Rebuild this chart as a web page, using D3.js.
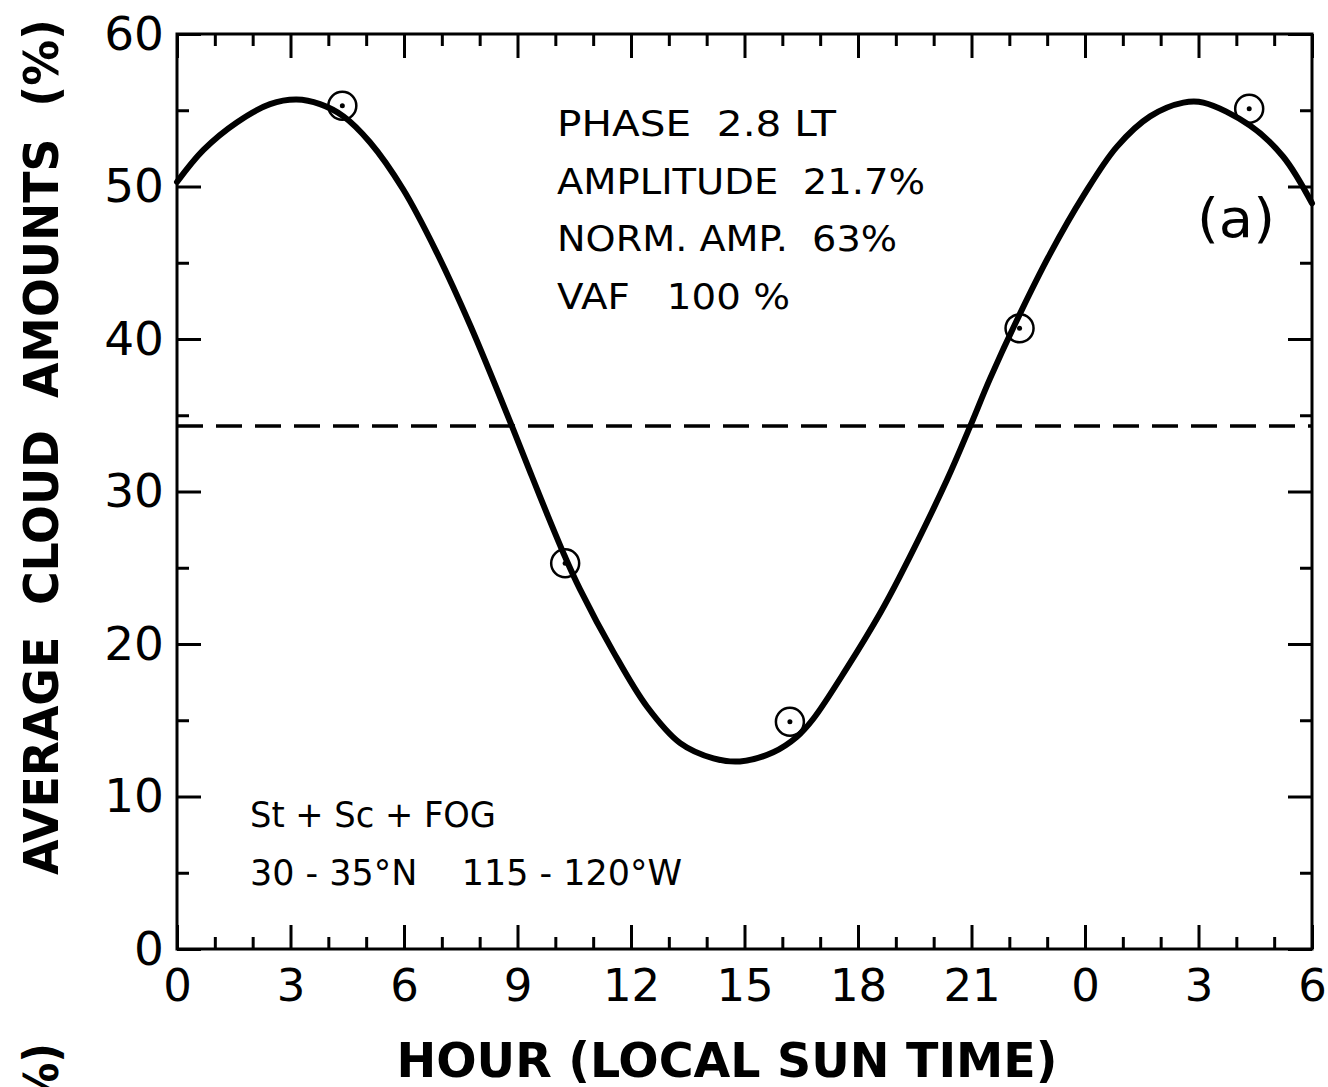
<!DOCTYPE html>
<html>
<head>
<meta charset="utf-8">
<script src="https://cdn.jsdelivr.net/npm/d3@7"></script>
<style>
  html, body { margin: 0; padding: 0; background: #fff; }
  svg { display: block; }
  text { fill: #000; font-family: "DejaVu Sans", sans-serif; white-space: pre; }
  .title { font-family: "DejaVu Sans Condensed", "DejaVu Sans", sans-serif; font-stretch: condensed; font-weight: bold; }
</style>
</head>
<body>
<svg id="chart" width="1328" height="1087"></svg>
<script>
// ---- data ----
const curveHours  = [0, 0.7, 1.58, 2.46, 3.16, 3.78, 4.4, 5.1, 5.98, 6.86, 7.75, 8.85, 9.38, 9.77, 10.26, 10.65, 11.53, 12.42, 13.3, 14.18, 14.88, 15.76, 16.38, 16.82, 17.7, 18.58, 19.1, 20.35, 20.96, 21.49, 22.27, 23.08, 23.96, 24.84, 25.72, 26.6, 27.13, 28.36, 29.24, 30];
const curveValues = [50.3, 52.4, 54.2, 55.4, 55.7, 55.4, 54.6, 52.9, 49.8, 45.7, 40.9, 34.3, 31.0, 28.6, 25.7, 23.6, 19.5, 15.9, 13.5, 12.5, 12.3, 12.9, 13.9, 15.1, 18.4, 22.0, 24.4, 30.75, 34.25, 37.4, 41.6, 45.6, 49.4, 52.6, 54.6, 55.5, 55.5, 54.0, 51.95, 48.9];
const obsHours  = [4.37, 10.26, 16.2, 22.27, 28.34];
const obsValues = [55.3, 25.3, 14.9, 40.7, 55.1];
const meanValue = 34.3;
const xMajorTicks = [0, 3, 6, 9, 12, 15, 18, 21, 24, 27, 30];
const xTickLabels = ["0", "3", "6", "9", "12", "15", "18", "21", "0", "3", "6"];
const xMinorTicks = d3.range(0, 31, 1);
const yMajorTicks = [0, 10, 20, 30, 40, 50, 60];
const yTickLabels = ["0", "10", "20", "30", "40", "50", "60"];
const yMinorTicks = [5, 15, 25, 35, 45, 55];
const statsLines = ["PHASE  2.8 LT", "AMPLITUDE  21.7%", "NORM. AMP.  63%", "VAF   100 %"];
const caseLines  = ["St + Sc + FOG", "30 - 35°N    115 - 120°W"];
const panelLabel = "(a)";
const xTitle = "HOUR (LOCAL SUN TIME)";
const yTitle = "AVERAGE  CLOUD  AMOUNTS  (%)";

// ---- layout ----
const L = 177, R = 1312, T = 34, B = 949;
const svg = d3.select("#chart");
const x = d3.scaleLinear().domain([0, 30]).range([L, R]);
const y = d3.scaleLinear().domain([0, 60]).range([B, T]);

function styleAxis(g) {
  g.select(".domain").remove();
  g.selectAll(".tick line").attr("stroke", "#000").attr("stroke-width", 3);
  g.selectAll(".tick text").attr("fill", "#000").style("font-family", "'DejaVu Sans', sans-serif");
}

// minor ticks
svg.append("g").attr("transform", `translate(0,${B})`)
  .call(d3.axisBottom(x).tickValues(xMinorTicks.filter(h => h % 3 !== 0)).tickSize(-12).tickFormat(""))
  .call(styleAxis);
svg.append("g").attr("transform", `translate(0,${T})`)
  .call(d3.axisTop(x).tickValues(xMinorTicks.filter(h => h % 3 !== 0)).tickSize(-12).tickFormat(""))
  .call(styleAxis);
svg.append("g").attr("transform", `translate(${L},0)`)
  .call(d3.axisLeft(y).tickValues(yMinorTicks).tickSize(-12).tickFormat(""))
  .call(styleAxis);
svg.append("g").attr("transform", `translate(${R},0)`)
  .call(d3.axisRight(y).tickValues(yMinorTicks).tickSize(-12).tickFormat(""))
  .call(styleAxis);

// major ticks
const xb = svg.append("g").attr("transform", `translate(0,${B})`)
  .call(d3.axisBottom(x).tickValues(xMajorTicks).tickSize(-24).tickSizeOuter(0).tickPadding(20)
    .tickFormat((d, i) => xTickLabels[i]))
  .call(styleAxis);
xb.selectAll(".tick text").attr("font-size", 45);
svg.append("g").attr("transform", `translate(0,${T})`)
  .call(d3.axisTop(x).tickValues(xMajorTicks).tickSize(-24).tickFormat(""))
  .call(styleAxis);
const yl = svg.append("g").attr("transform", `translate(${L},0)`)
  .call(d3.axisLeft(y).tickValues(yMajorTicks).tickSize(-24).tickPadding(13)
    .tickFormat((d, i) => yTickLabels[i]))
  .call(styleAxis);
yl.selectAll(".tick text").attr("font-size", 47);
svg.append("g").attr("transform", `translate(${R},0)`)
  .call(d3.axisRight(y).tickValues(yMajorTicks).tickSize(-24).tickFormat(""))
  .call(styleAxis);

// frame
svg.append("rect").attr("x", L).attr("y", T).attr("width", R - L).attr("height", B - T)
  .attr("fill", "none").attr("stroke", "#000").attr("stroke-width", 3);

// mean dashed line
svg.append("line")
  .attr("x1", x(0)).attr("x2", x(30)).attr("y1", y(meanValue)).attr("y2", y(meanValue))
  .attr("stroke", "#000").attr("stroke-width", 3.5).attr("stroke-dasharray", "26,13");

// fitted curve
const pts = curveHours.map((h, i) => [h, curveValues[i]]);
svg.append("path").datum(pts)
  .attr("d", d3.line().x(d => x(d[0])).y(d => y(d[1])).curve(d3.curveCatmullRom.alpha(0.5)))
  .attr("fill", "none").attr("stroke", "#000").attr("stroke-width", 6).attr("stroke-linecap", "round")
  .attr("stroke-linejoin", "round");

// observed points
const obs = obsHours.map((h, i) => [h, obsValues[i]]);
const og = svg.append("g");
og.selectAll("circle.ring").data(obs).join("circle").attr("class", "ring")
  .attr("cx", d => x(d[0])).attr("cy", d => y(d[1])).attr("r", 14)
  .attr("fill", "none").attr("stroke", "#000").attr("stroke-width", 2.5);
og.selectAll("circle.dot").data(obs).join("circle").attr("class", "dot")
  .attr("cx", d => x(d[0])).attr("cy", d => y(d[1])).attr("r", 2.5).attr("fill", "#000");

// annotations
const statsWidths = [279, 368, 340, 233];
svg.append("g").selectAll("text").data(statsLines).join("text")
  .attr("x", 557).attr("y", (d, i) => 136 + i * 57.5)
  .attr("font-size", 35)
  .attr("textLength", (d, i) => statsWidths[i]).attr("lengthAdjust", "spacingAndGlyphs")
  .text(d => d);

const caseWidths = [246, 432];
svg.append("g").selectAll("text").data(caseLines).join("text")
  .attr("x", 250).attr("y", (d, i) => 827 + i * 58)
  .attr("font-size", 35)
  .attr("textLength", (d, i) => caseWidths[i]).attr("lengthAdjust", "spacingAndGlyphs")
  .text(d => d);

svg.append("text").attr("x", 1197).attr("y", 237).attr("font-size", 54)
  .attr("textLength", 78).attr("lengthAdjust", "spacingAndGlyphs").text(panelLabel);

// axis titles
svg.append("text").attr("class", "title").attr("x", 727).attr("y", 1077).attr("text-anchor", "middle")
  .attr("font-size", 48)
  .attr("textLength", 661).attr("lengthAdjust", "spacingAndGlyphs").text(xTitle);

svg.append("text").attr("class", "title").attr("transform", "translate(58,447) rotate(-90)").attr("text-anchor", "middle")
  .attr("font-size", 48)
  .attr("textLength", 856).attr("lengthAdjust", "spacingAndGlyphs").text(yTitle);

// fragment of the next panel's y title, cut by the page edge
svg.append("text").attr("class", "title").attr("transform", "translate(58,1043) rotate(-90)").attr("text-anchor", "end")
  .attr("font-size", 48).text("(%)");
</script>
</body>
</html>
